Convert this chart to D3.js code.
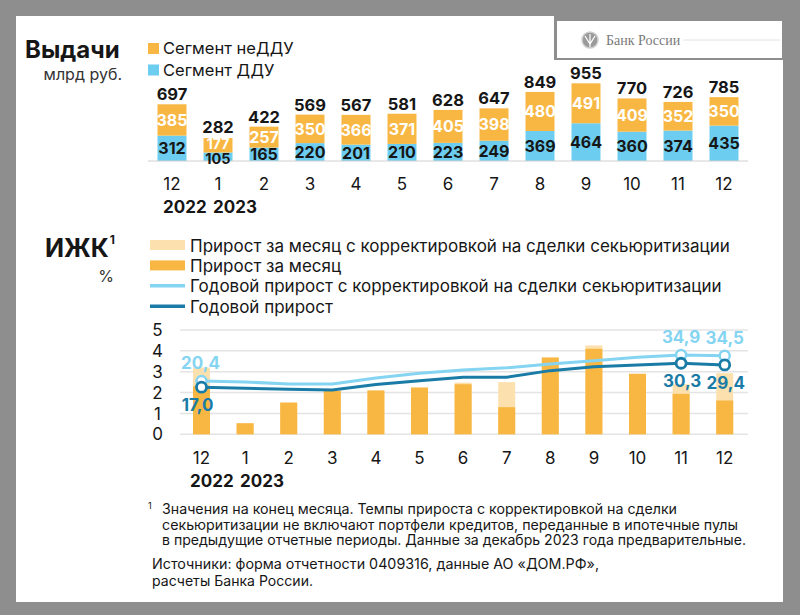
<!DOCTYPE html>
<html><head><meta charset="utf-8">
<script src="https://cdn.jsdelivr.net/npm/d3@7"></script>
<style>body{margin:0;background:#8e8e8e;} svg{display:block}</style>
</head><body><svg id="c" width="800" height="615"></svg>
<script>
// ---------- data ----------
const months = ["12","1","2","3","4","5","6","7","8","9","10","11","12"];
const years = ["2022","2023"];
const segDDU = [312,105,165,220,201,210,223,249,369,464,360,374,435];
const segNonDDU = [385,177,257,350,366,371,405,398,480,491,409,352,350];
const totals = [697,282,422,569,567,581,628,647,849,955,770,726,785];
const monthlyGrowth    = [2.3,0.53,1.52,2.08,2.1,2.24,2.40,1.30,3.68,4.10,2.90,1.94,1.62];
const monthlyGrowthAdj = [3.2,0.53,1.52,2.08,2.1,2.24,2.48,2.50,3.68,4.26,2.90,2.40,2.93];
const annualGrowth    = [17.0,16.4,15.8,15.4,18.5,20.6,22.5,22.5,26.2,28.4,29.3,30.3,29.4];
const annualGrowthAdj = [20.4,19.9,18.8,18.8,22.1,24.7,26.6,27.8,29.9,31.7,33.6,34.9,34.5];
const yTicks = [0,1,2,3,4,5];
const labeledPoints = [0,11,12];
const legendTop = ["Сегмент неДДУ","Сегмент ДДУ"];
const legendBottom = ["Прирост за месяц с корректировкой на сделки секьюритизации","Прирост за месяц","Годовой прирост с корректировкой на сделки секьюритизации","Годовой прирост"];
const footnote = ["Значения на конец месяца. Темпы прироста с корректировкой на сделки",
  "секьюритизации не включают портфели кредитов, переданные в ипотечные пулы",
  "в предыдущие отчетные периоды. Данные за декабрь 2023 года предварительные."];
const sources = ["Источники: форма отчетности 0409316, данные АО «ДОМ.РФ»,","расчеты Банка России."];

// ---------- styles ----------
const C = {orange:"#F8B743", blue:"#6CCDF0", lightOrange:"#FCE1AE", lineLight:"#84D4F2", lineDark:"#1A7CA6", text:"#161616", grid:"#E4E4E4"};
const FONT = "Inter, 'Noto Sans', sans-serif";
const svg = d3.select("#c").style("font-family", FONT);
const idx = d3.range(months.length);
const fmt = v => d3.format(".1f")(v).replace(".", ",");

// background + card
svg.append("rect").attr("width",800).attr("height",615).attr("fill","#8e8e8e");
svg.append("rect").attr("x",16).attr("y",16).attr("width",767).attr("height",586).attr("fill","#fff");
// logo box
svg.append("rect").attr("x",554).attr("y",16).attr("width",229).attr("height",44).attr("fill","#8e8e8e");
svg.append("rect").attr("x",557).attr("y",21).attr("width",225).attr("height",37).attr("fill","#fff");
svg.append("circle").attr("cx",590).attr("cy",40).attr("r",8).attr("fill","#9a9a9a").attr("stroke","#cfcfcf").attr("stroke-width",1.5);
svg.append("path").attr("d","M585,36 L590,44 L595,36 M590,34 L590,47").attr("stroke","#fff").attr("stroke-width",1.2).attr("fill","none");
svg.append("text").attr("x",606).attr("y",45).attr("font-family","'Liberation Serif', serif").attr("font-size",14).attr("fill","#7a7a7a").text("Банк России");
svg.append("line").attr("x1",683).attr("x2",780).attr("y1",40).attr("y2",40).attr("stroke","#e2e2e2");

// ---------- top chart ----------
svg.append("text").attr("x",25).attr("y",58).attr("font-size",24).attr("font-weight",700).attr("fill",C.text).text("Выдачи");
svg.append("text").attr("x",122).attr("y",80).attr("text-anchor","end").attr("font-size",16).attr("fill","#333").text("млрд руб.");

const ltColors=[C.orange,C.blue];
legendTop.forEach((t,i)=>{
  const y = 43 + i*21.5;
  svg.append("rect").attr("x",148).attr("y",y).attr("width",11).attr("height",11).attr("fill",ltColors[i]);
  svg.append("text").attr("x",163).attr("y",y+11).attr("font-size",16.5).attr("fill",C.text).text(t);
});

const xT = d3.scaleBand().domain(idx).range([149,747]).paddingInner(0.37).paddingOuter(0.185);
const yT = d3.scaleLinear().domain([0,955]).range([161,83.3]);
const gT = svg.append("g");
gT.selectAll(".ddu").data(idx).join("rect").attr("x",i=>xT(i)).attr("width",xT.bandwidth())
  .attr("y",i=>yT(segDDU[i])).attr("height",i=>yT(0)-yT(segDDU[i])).attr("fill",C.blue);
gT.selectAll(".nd").data(idx).join("rect").attr("x",i=>xT(i)).attr("width",xT.bandwidth())
  .attr("y",i=>yT(segDDU[i]+segNonDDU[i])).attr("height",i=>yT(segDDU[i])-yT(segDDU[i]+segNonDDU[i])).attr("fill",C.orange);
gT.append("line").attr("x1",148).attr("x2",748).attr("y1",yT(0)).attr("y2",yT(0)).attr("stroke","#d0d0d0").attr("stroke-width",1);
const cx = i => xT(i)+xT.bandwidth()/2;
gT.selectAll(".tl").data(idx).join("text").attr("x",cx).attr("y",i=>yT(segDDU[i]+segNonDDU[i])-(totals[i]<300?5:4))
  .attr("text-anchor","middle").attr("font-size",16.5).attr("font-weight",700).attr("fill",C.text).text(i=>totals[i]);
gT.selectAll(".nl").data(idx).join("text").attr("x",cx).attr("y",i=>(yT(segDDU[i])+yT(segDDU[i]+segNonDDU[i]))/2 - (segNonDDU[i]<200?1:0))
  .attr("dy","0.36em").attr("text-anchor","middle").attr("font-size",i=>segNonDDU[i]<200?14:16).attr("font-weight",700).attr("fill","#fff").text(i=>segNonDDU[i]);
gT.selectAll(".dl").data(idx).join("text").attr("x",cx).attr("y",i=>(yT(0)+yT(segDDU[i]))/2+ (segDDU[i]<150?2:0))
  .attr("dy","0.36em").attr("text-anchor","middle").attr("font-size",i=>segDDU[i]<150?14.5:16).attr("font-weight",700).attr("fill",C.text).text(i=>segDDU[i]);
gT.selectAll(".xl").data(idx).join("text").attr("x",cx).attr("y",190)
  .attr("text-anchor","middle").attr("font-size",17).attr("fill",C.text).text(i=>months[i]);
gT.append("text").attr("x",163).attr("y",213).attr("font-size",17).attr("font-weight",700).attr("fill",C.text).text(years[0]);
gT.append("text").attr("x",213).attr("y",213).attr("font-size",17).attr("font-weight",700).attr("fill",C.text).text(years[1]);

// ---------- bottom chart ----------
const title2 = svg.append("text").attr("x",45).attr("y",257).attr("font-size",25).attr("font-weight",700).attr("fill",C.text);
title2.append("tspan").text("ИЖК");
title2.append("tspan").attr("dy",-13).attr("dx",1).attr("font-size",12).text("1");
svg.append("text").attr("x",106).attr("y",282).attr("text-anchor","middle").attr("font-size",16).attr("fill","#333").text("%");

legendBottom.forEach((t,i)=>{
  const yc = 245 + i*20.4;
  if(i<2) svg.append("rect").attr("x",150).attr("y",yc-5).attr("width",35).attr("height",10).attr("fill",i==0?C.lightOrange:C.orange);
  else svg.append("line").attr("x1",150).attr("x2",185).attr("y1",yc).attr("y2",yc).attr("stroke",i==2?C.lineLight:C.lineDark).attr("stroke-width",3.5);
  svg.append("text").attr("x",190).attr("y",yc+6.5).attr("font-size",17).attr("fill",C.text).text(t);
});

const xB = d3.scaleBand().domain(idx).range([179.7,746.5]).paddingInner(0.61).paddingOuter(0.305);
const yL = d3.scaleLinear().domain([0,5]).range([434.3,330]);
const yR = d3.scaleLinear().domain([-9.2,48.8]).range([434.3,330]);
const gB = svg.append("g");
gB.selectAll(".grid").data(yTicks).join("line").attr("x1",180).attr("x2",748).attr("y1",d=>yL(d)).attr("y2",d=>yL(d))
  .attr("stroke",C.grid).attr("stroke-width",1.5);
gB.selectAll(".yl").data(yTicks).join("text").attr("x",157.5).attr("y",d=>yL(d)).attr("dy","0.36em")
  .attr("text-anchor","middle").attr("font-size",17).attr("fill",C.text).text(d=>d);
gB.selectAll(".ba").data(idx).join("rect").attr("x",i=>xB(i)).attr("width",xB.bandwidth())
  .attr("y",i=>yL(monthlyGrowthAdj[i])).attr("height",i=>yL(0)-yL(monthlyGrowthAdj[i])).attr("fill",C.lightOrange);
gB.selectAll(".bm").data(idx).join("rect").attr("x",i=>xB(i)).attr("width",xB.bandwidth())
  .attr("y",i=>yL(monthlyGrowth[i])).attr("height",i=>yL(0)-yL(monthlyGrowth[i])).attr("fill",C.orange);
const bx = i => xB(i)+xB.bandwidth()/2;
const lineAdj = d3.line().x(bx).y(i=>yR(annualGrowthAdj[i]));
const lineAn = d3.line().x(bx).y(i=>yR(annualGrowth[i]));
gB.append("path").attr("d",lineAdj(idx)).attr("fill","none").attr("stroke",C.lineLight).attr("stroke-width",3);
gB.append("path").attr("d",lineAn(idx)).attr("fill","none").attr("stroke",C.lineDark).attr("stroke-width",3);
gB.selectAll(".ca").data(labeledPoints).join("circle").attr("cx",bx).attr("cy",i=>yR(annualGrowthAdj[i])).attr("r",5)
  .attr("fill","#fff").attr("stroke",C.lineLight).attr("stroke-width",2.5);
gB.selectAll(".cd").data(labeledPoints).join("circle").attr("cx",bx).attr("cy",i=>yR(annualGrowth[i])).attr("r",5)
  .attr("fill","#fff").attr("stroke",C.lineDark).attr("stroke-width",2.8);
gB.selectAll(".la").data(labeledPoints).join("text").attr("x",i=>bx(i)+(i==0?-1:0)).attr("y",i=>yR(annualGrowthAdj[i])-12)
  .attr("text-anchor","middle").attr("font-size",17).attr("font-weight",700).attr("fill",C.lineLight).text(i=>fmt(annualGrowthAdj[i]));
gB.selectAll(".ld").data(labeledPoints).join("text").attr("x",i=>bx(i)+(i==0?-4:1)).attr("y",i=>yR(annualGrowth[i])+24)
  .attr("text-anchor","middle").attr("font-size",17).attr("font-weight",700).attr("fill",C.lineDark).text(i=>fmt(annualGrowth[i]));
gB.selectAll(".xl").data(idx).join("text").attr("x",bx).attr("y",464)
  .attr("text-anchor","middle").attr("font-size",17).attr("fill",C.text).text(i=>months[i]);
gB.append("text").attr("x",190).attr("y",487).attr("font-size",17).attr("font-weight",700).attr("fill",C.text).text(years[0]);
gB.append("text").attr("x",240).attr("y",487).attr("font-size",17).attr("font-weight",700).attr("fill",C.text).text(years[1]);

// ---------- footnote ----------
svg.append("text").attr("x",148).attr("y",509).attr("font-size",9).attr("fill",C.text).text("1");
const fnEnds=[677,738,746];
footnote.forEach((t,i)=>{
  svg.append("text").attr("x",162).attr("y",514+i*15.5).attr("font-size",14).attr("fill",C.text)
    .attr("textLength",fnEnds[i]-162).attr("lengthAdjust","spacingAndGlyphs").text(t);
});
const srcEnds=[599,313];
sources.forEach((t,i)=>{
  svg.append("text").attr("x",152).attr("y",569+i*17).attr("font-size",14).attr("fill",C.text)
    .attr("textLength",srcEnds[i]-152).attr("lengthAdjust","spacingAndGlyphs").text(t);
});
</script></body></html>
